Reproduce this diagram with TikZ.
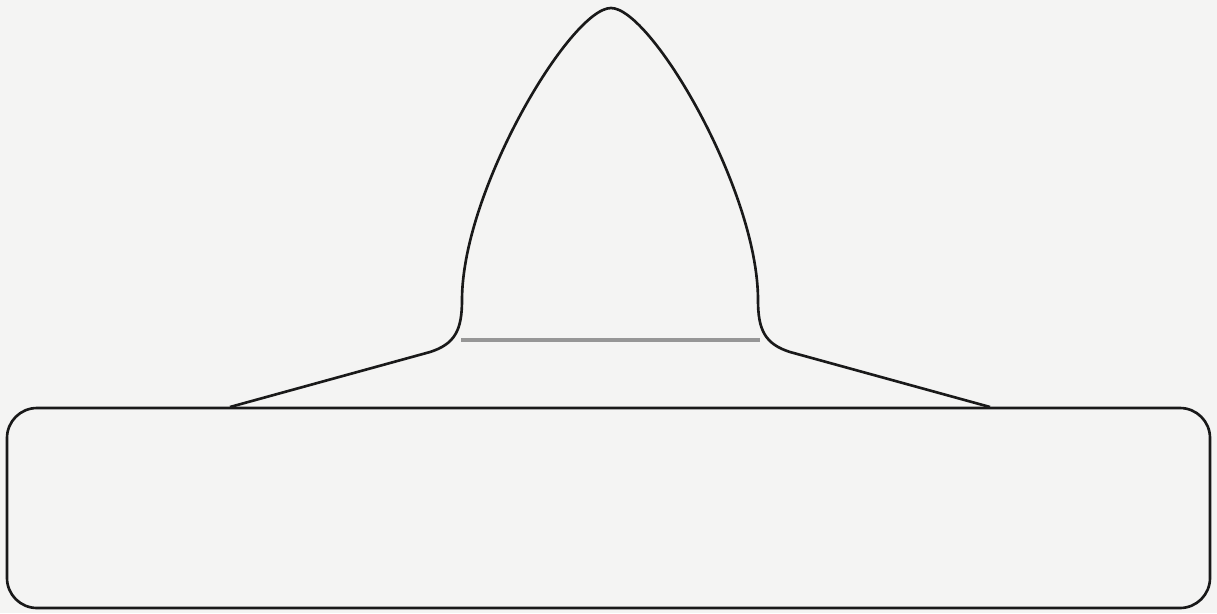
\documentclass[tikz,border=0pt]{standalone}
\definecolor{paper}{RGB}{244,244,243}
\definecolor{rule}{RGB}{150,150,150}
\tikzset{outline/.style={draw=black!90, line width=1.5pt, line join=round},
         baseline/.style={draw=rule, line width=1.9pt}}
\begin{document}
\begin{tikzpicture}[x=0.02cm, y=-0.02cm]
\fill[paper] (0,0) rectangle (1217,613);
\useasboundingbox (0,0) rectangle (1217,613);
% hat
\draw[outline] (230,407) -- (430,352)
  .. controls (455,344) and (462,330) .. (462,300)
  .. controls (462,190) and (571,8) .. (611,8)
  .. controls (651,8) and (758,190) .. (758,300)
  .. controls (758,330) and (765,344) .. (790,352)
  -- (990,407);
% brim
\draw[outline, rounded corners=0.6cm] (7,408) rectangle (1210,608);
% inner line
\draw[baseline] (461,340) -- (760,340);
\end{tikzpicture}
\end{document}
